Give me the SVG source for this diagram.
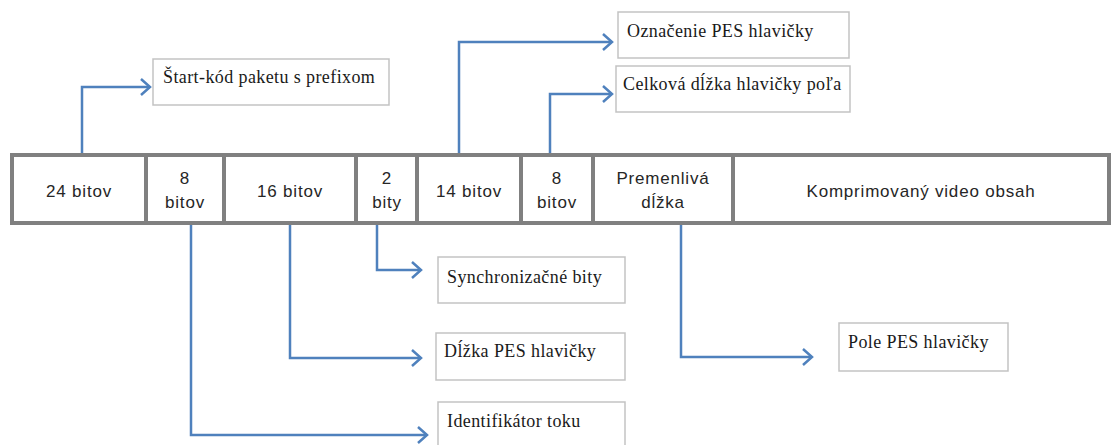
<svg xmlns="http://www.w3.org/2000/svg" width="1113" height="445" viewBox="0 0 1113 445">
<style>
.cell{fill:#fff;stroke:#808080;stroke-width:4}
.ct{font-family:"Liberation Sans",Arial,sans-serif;font-size:17px;fill:#262626;text-anchor:middle;letter-spacing:0.8px}
.lbl{fill:#fff;stroke:#c3c3c3;stroke-width:1.5}
.lt{font-family:"Liberation Serif","Times New Roman",serif;font-size:18px;fill:#1a1a1a;letter-spacing:0.4px}
.con{fill:none;stroke:#4f81bd;stroke-width:2.5;marker-end:url(#arr)}
</style>
<defs>
<marker id="arr" markerUnits="userSpaceOnUse" markerWidth="14" markerHeight="20" refX="11" refY="9" orient="auto">
<path d="M2,1 L11,9 L2,17" fill="none" stroke="#4f81bd" stroke-width="2.5"/>
</marker>
</defs>
<g id="bar">
<rect class="cell" x="12" y="155" width="1097" height="68"/>
<g stroke="#808080" stroke-width="4">
<line x1="146" y1="155" x2="146" y2="223"/>
<line x1="224" y1="155" x2="224" y2="223"/>
<line x1="356" y1="155" x2="356" y2="223"/>
<line x1="417" y1="155" x2="417" y2="223"/>
<line x1="521" y1="155" x2="521" y2="223"/>
<line x1="593" y1="155" x2="593" y2="223"/>
<line x1="733" y1="155" x2="733" y2="223"/>
</g>
</g>
<g id="cell-24"><text class="ct" x="79" y="197">24 bitov</text></g>
<g id="cell-8a"><text class="ct" x="185" y="184">8</text><text class="ct" x="185" y="208">bitov</text></g>
<g id="cell-16"><text class="ct" x="290" y="197">16 bitov</text></g>
<g id="cell-2"><text class="ct" x="387" y="184">2</text><text class="ct" x="387" y="208">bity</text></g>
<g id="cell-14"><text class="ct" x="469" y="197">14 bitov</text></g>
<g id="cell-8b"><text class="ct" x="557" y="184">8</text><text class="ct" x="557" y="208">bitov</text></g>
<g id="cell-var"><text class="ct" x="663" y="184">Premenlivá</text><text class="ct" x="663" y="208">dĺžka</text></g>
<g id="cell-video"><text class="ct" x="921" y="197">Komprimovaný video obsah</text></g>

<g id="n-start"><rect class="lbl" x="153" y="59" width="236" height="46"/><text class="lt" x="163" y="83">Štart-kód paketu s prefixom</text></g>
<g id="n-oznacenie"><rect class="lbl" x="618" y="12" width="231" height="46"/><text class="lt" x="627" y="37">Označenie PES hlavičky</text></g>
<g id="n-celkova"><rect class="lbl" x="616" y="66" width="234" height="46"/><text class="lt" x="623" y="90">Celková dĺžka hlavičky poľa</text></g>
<g id="n-sync"><rect class="lbl" x="438" y="257" width="187" height="46"/><text class="lt" x="447" y="283">Synchronizačné bity</text></g>
<g id="n-dlzka"><rect class="lbl" x="436" y="333" width="189" height="47"/><text class="lt" x="444" y="357">Dĺžka PES hlavičky</text></g>
<g id="n-ident"><rect class="lbl" x="438" y="402" width="187" height="50"/><text class="lt" x="447" y="427">Identifikátor toku</text></g>
<g id="n-pole"><rect class="lbl" x="839" y="323" width="169" height="48"/><text class="lt" x="848" y="348">Pole PES hlavičky</text></g>

<g id="connectors">
<path class="con" d="M82,153 V87 H150"/>
<path class="con" d="M459,153 V42 H612"/>
<path class="con" d="M550,153 V94 H612"/>
<path class="con" d="M377,225 V270 H421"/>
<path class="con" d="M290,225 V358 H421"/>
<path class="con" d="M191,225 V435 H427"/>
<path class="con" d="M681,225 V357 H812"/>
</g>
</svg>
